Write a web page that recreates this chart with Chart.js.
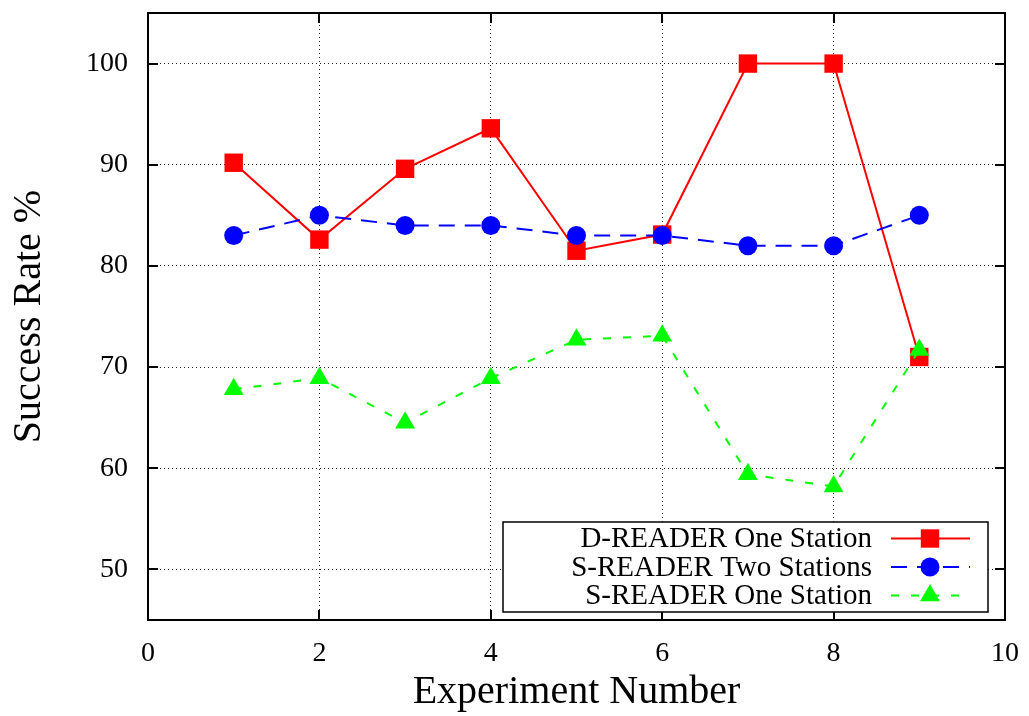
<!DOCTYPE html>
<html>
<head>
<meta charset="utf-8">
<script src="https://cdn.jsdelivr.net/npm/chart.js@4.4.1/dist/chart.umd.min.js"></script>
<style>
  html, body { margin: 0; padding: 0; background: #fff; }
  #wrap { width: 1029px; height: 716px; position: relative; }
</style>
</head>
<body>
<div id="wrap"><canvas id="chart"></canvas></div>
<script>
// values
const experiments = [1, 2, 3, 4, 5, 6, 7, 8, 9];
const dReaderOne = [90.2, 82.6, 89.6, 93.6, 81.5, 83.1, 100, 100, 71.0];
const sReaderTwo = [83, 85, 84, 84, 83, 83, 82, 82, 85];
const sReaderOne = [67.8, 68.9, 64.5, 68.9, 72.7, 73.1, 59.4, 58.2, 71.7];
const seriesNames = ['D-READER One Station', 'S-READER Two Stations', 'S-READER One Station'];
const xTicks = [0, 2, 4, 6, 8, 10];
const yTicks = [50, 60, 70, 80, 90, 100];

const FONT = "'Liberation Serif', 'Times New Roman', serif";

function pts(values) {
  return experiments.map((x, i) => ({ x: x, y: values[i] }));
}

function marker(ctx, ds, x, y) {
  ctx.save();
  ctx.fillStyle = ds.pointBackgroundColor;
  ctx.strokeStyle = ds.pointBackgroundColor;
  ctx.setLineDash([]);
  if (Chart.helpers && Chart.helpers.drawPoint) {
    Chart.helpers.drawPoint(ctx, { pointStyle: ds.pointStyle, radius: ds.pointRadius, rotation: 0, borderWidth: 0 }, x, y);
  } else {
    ctx.beginPath();
    ctx.arc(x, y, ds.pointRadius, 0, Math.PI * 2);
    ctx.fill();
  }
  ctx.restore();
}

// gnuplot style box: full frame and inward ticks on all four sides
const framePlugin = {
  id: 'frame',
  afterDatasetsDraw(chart) {
    const ctx = chart.ctx;
    const a = chart.chartArea;
    const xs = chart.scales.x, ys = chart.scales.y;
    ctx.save();
    ctx.strokeStyle = '#000';
    ctx.lineWidth = 2;
    ctx.setLineDash([]);
    ctx.beginPath();
    xTicks.forEach(v => {
      const px = Math.round(xs.getPixelForValue(v));
      ctx.moveTo(px, a.bottom); ctx.lineTo(px, a.bottom - 10);
      ctx.moveTo(px, a.top); ctx.lineTo(px, a.top + 10);
    });
    yTicks.forEach(v => {
      const py = Math.round(ys.getPixelForValue(v));
      ctx.moveTo(a.left, py); ctx.lineTo(a.left + 10, py);
      ctx.moveTo(a.right, py); ctx.lineTo(a.right - 10, py);
    });
    ctx.stroke();
    ctx.strokeRect(a.left, a.top, a.right - a.left, a.bottom - a.top);
    ctx.restore();
  }
};

const legendPlugin = {
  id: 'boxLegend',
  afterDraw(chart) {
    const ctx = chart.ctx;
    const a = chart.chartArea;
    const box = { left: a.left + 355, top: a.bottom - 98, right: a.right - 17, bottom: a.bottom - 8 };
    ctx.save();
    ctx.fillStyle = '#fff';
    ctx.fillRect(box.left, box.top, box.right - box.left, box.bottom - box.top);
    ctx.strokeStyle = '#000';
    ctx.lineWidth = 1.5;
    ctx.strokeRect(box.left, box.top, box.right - box.left, box.bottom - box.top);
    ctx.font = '29px ' + FONT;
    ctx.textAlign = 'right';
    ctx.textBaseline = 'middle';
    chart.data.datasets.forEach((ds, i) => {
      const cy = box.top + 16.5 + i * 28.5;
      ctx.fillStyle = '#000';
      ctx.fillText(ds.label, box.left + 369, cy + 1);
      ctx.strokeStyle = ds.borderColor;
      ctx.lineWidth = ds.borderWidth;
      ctx.setLineDash(ds.borderDash || []);
      ctx.beginPath();
      ctx.moveTo(box.left + 388, cy);
      ctx.lineTo(box.left + 467, cy);
      ctx.stroke();
      marker(ctx, ds, box.left + 427, cy);
    });
    ctx.restore();
  }
};

const ctx = document.getElementById('chart').getContext('2d');
new Chart(ctx, {
  type: 'line',
  data: {
    datasets: [
      {
        label: seriesNames[0], data: pts(dReaderOne), order: 3,
        borderColor: '#ff0000', borderWidth: 2, borderDash: [],
        pointStyle: 'rect', pointRadius: 13, pointBackgroundColor: '#ff0000', pointBorderWidth: 0
      },
      {
        label: seriesNames[1], data: pts(sReaderTwo), order: 2,
        borderColor: '#0000ff', borderWidth: 2, borderDash: [16, 10],
        pointStyle: 'circle', pointRadius: 9.5, pointBackgroundColor: '#0000ff', pointBorderWidth: 0
      },
      {
        label: seriesNames[2], data: pts(sReaderOne), order: 1,
        borderColor: '#00ff00', borderWidth: 2, borderDash: [8, 12],
        pointStyle: 'triangle', pointRadius: 11.5, pointBackgroundColor: '#00ff00', pointBorderWidth: 0
      }
    ]
  },
  options: {
    responsive: true,
    maintainAspectRatio: false,
    animation: false,
    events: [],
    layout: { padding: { left: 0, top: 10, right: 24, bottom: 0 } },
    plugins: { legend: { display: false }, tooltip: { enabled: false } },
    scales: {
      x: {
        type: 'linear', min: 0, max: 10,
        afterBuildTicks: s => { s.ticks = xTicks.map(v => ({ value: v })); },
        afterFit: s => { s.height = 96; s.paddingLeft = 0; s.paddingRight = 0; },
        grid: { color: 'rgba(0,0,0,0.85)', lineWidth: 1, drawTicks: false },
        border: { display: false, dash: [1, 3] },
        ticks: { color: '#000', font: { family: FONT, size: 28 }, padding: 17, maxRotation: 0 },
        title: { display: true, text: 'Experiment Number', color: '#000', font: { family: FONT, size: 40 }, padding: { top: 0, bottom: 0 } }
      },
      y: {
        type: 'linear', min: 45, max: 105,
        afterBuildTicks: s => { s.ticks = yTicks.map(v => ({ value: v })); },
        afterFit: s => { s.width = 148; s.paddingTop = 0; s.paddingBottom = 0; },
        grid: { color: 'rgba(0,0,0,0.85)', lineWidth: 1, drawTicks: false },
        border: { display: false, dash: [1, 3] },
        ticks: { color: '#000', font: { family: FONT, size: 28 }, padding: 20 },
        title: { display: true, text: 'Success Rate %', color: '#000', font: { family: FONT, size: 40 }, padding: { top: 5, bottom: 0 } }
      }
    }
  },
  plugins: [framePlugin, legendPlugin]
});
</script>
</body>
</html>
